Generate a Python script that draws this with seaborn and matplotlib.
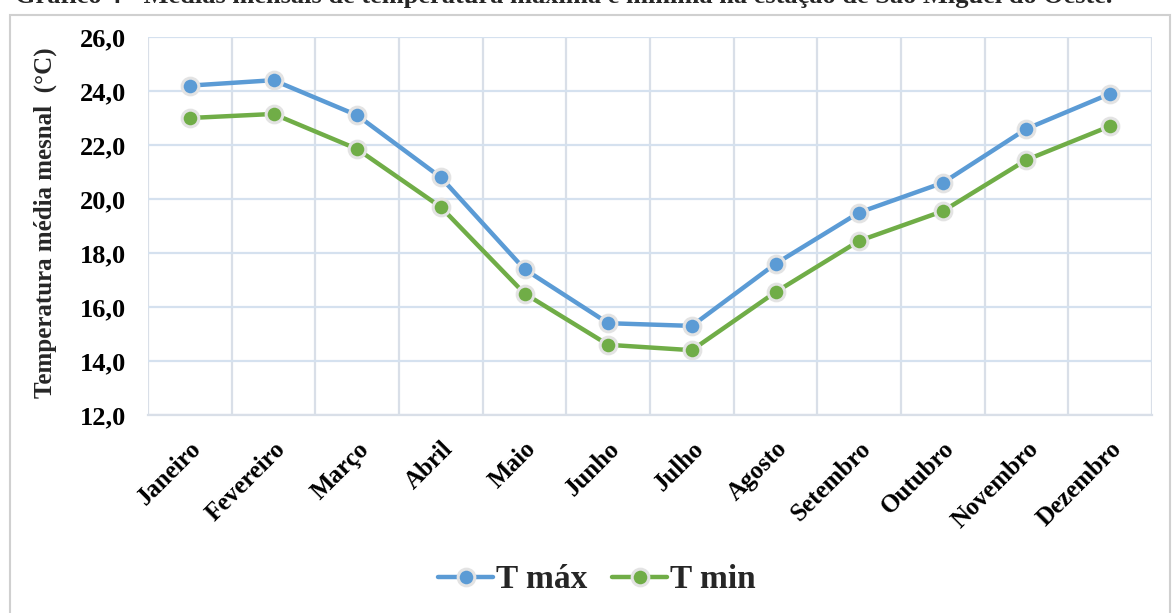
import matplotlib
matplotlib.use("Agg")
import matplotlib.pyplot as plt
from matplotlib.ticker import FixedLocator, FuncFormatter
from matplotlib.lines import Line2D
from matplotlib.patches import Rectangle
import seaborn as sns
import pandas as pd

months = ["Janeiro", "Fevereiro", "Março", "Abril", "Maio", "Junho",
          "Julho", "Agosto", "Setembro", "Outubro", "Novembro", "Dezembro"]
t_max = [24.2, 24.4, 23.1, 20.8, 17.4, 15.4, 15.3, 17.6, 19.5, 20.6, 22.6, 23.9]
t_min = [23.0, 23.15, 21.85, 19.7, 16.5, 14.6, 14.4, 16.55, 18.45, 19.55, 21.45, 22.7]
series_names = ["T máx", "T min"]
colors = ["#5B9BD5", "#70AD47"]
y_ticks = [12.0, 14.0, 16.0, 18.0, 20.0, 22.0, 24.0, 26.0]
title = "Gráfico 4 - Médias mensais de temperatura máxima e mínima na estação de São Miguel do Oeste."
y_label = "Temperatura média mesnal  (°C)"

df = pd.DataFrame({
    "Mês": months * 2,
    "Valor": t_max + t_min,
    "Série": [series_names[0]] * len(months) + [series_names[1]] * len(months),
})

sns.set_theme(style="white")
plt.rcParams["font.family"] = ["Liberation Serif", "DejaVu Serif"]
plt.rcParams["font.weight"] = "bold"

fig = plt.figure(figsize=(11.76, 6.13), dpi=100)
ax = fig.add_axes([148 / 1176, 1 - 415 / 613, (1152 - 148) / 1176, (415 - 37) / 613])

sns.lineplot(data=df, x="Mês", y="Valor", hue="Série", palette=colors,
             marker="o", markersize=12, markeredgecolor="#E3E3E3",
             markeredgewidth=2.2, linewidth=3.2, sort=False, ax=ax,
             legend=False, zorder=3)

ax.set_xlim(-0.5, len(months) - 0.5)
ax.set_ylim(y_ticks[0], y_ticks[-1])
ax.set_yticks(y_ticks)
ax.yaxis.set_major_formatter(FuncFormatter(lambda v, p: f"{v:.1f}".replace(".", ",")))
ax.set_xticks(range(len(months)))
ax.set_xticklabels(months, rotation=45, ha="right", rotation_mode="anchor",
                   fontsize=18, fontweight="bold")
for lab in ax.get_yticklabels():
    lab.set_fontsize(19)
    lab.set_fontweight("bold")
ax.tick_params(axis="both", length=0, colors="black")
ax.tick_params(axis="x", pad=16)
ax.tick_params(axis="y", pad=16)

# gridlines
ax.xaxis.set_minor_locator(FixedLocator([i + 0.5 for i in range(-1, len(months))]))
ax.grid(False)
ax.grid(which="minor", axis="x", color="#D9DFE8", linewidth=1.6)
ax.grid(which="major", axis="y", color="#D5E1EF", linewidth=1.6)
for s in ["top", "right", "left"]:
    ax.spines[s].set_visible(False)
ax.spines["bottom"].set_color("#D9DFE8")
ax.spines["bottom"].set_linewidth(1.6)
ax.set_xlabel("")
ax.set_ylabel(y_label, fontsize=18, fontweight="bold")
ax.yaxis.set_label_coords((57 - 148) / 1004, 0.51)

# legend
handles = [Line2D([0], [0], color=c, linewidth=3.2, marker="o", markersize=12,
                  markeredgecolor="#E3E3E3", markeredgewidth=2.2) for c in colors]
fig.legend(handles, series_names, loc="center", bbox_to_anchor=(597 / 1176, 1 - 580 / 613),
           ncol=2, frameon=False, prop={"family": "Liberation Serif", "weight": "bold", "size": 24},
           handlelength=1.65, handletextpad=0.08, columnspacing=0.75)

# outer border
fig.patches.append(Rectangle((10 / 1176, -0.05), (1170 - 10) / 1176, (1 - 15 / 613) + 0.05,
                             transform=fig.transFigure, fill=False,
                             edgecolor="#D0D0D0", linewidth=1.5))

fig.text(564 / 1176, 1 - 3 / 613, title, ha="center", va="baseline",
         fontsize=19, fontweight="bold")

fig.savefig("out.png", dpi=100, facecolor="white")
